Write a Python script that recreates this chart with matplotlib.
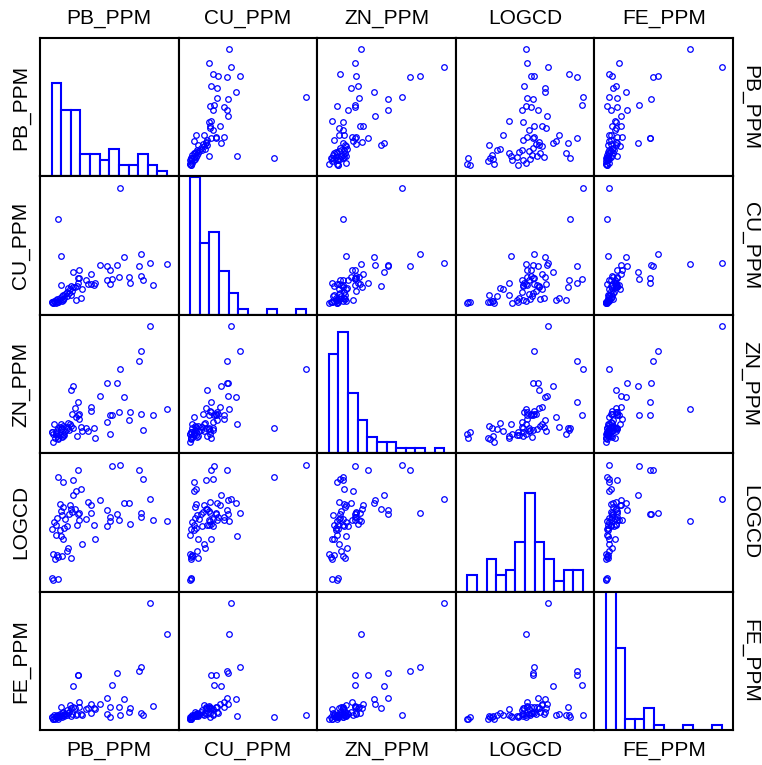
import numpy as np
import matplotlib
matplotlib.use("Agg")
import matplotlib.pyplot as plt

plt.rcParams['font.family'] = ['Liberation Sans', 'DejaVu Sans']

names = ["PB_PPM", "CU_PPM", "ZN_PPM", "LOGCD", "FE_PPM"]

# one value per sample, on a 0-100 scale of each variable's range
pb_ppm = [59, 6, 77, 63, 8, 76, 77, 100, 85, 88, 79, 68, 67, 58, 57, 52, 51, 50.5, 48, 48,
          42, 38, 37, 34, 34, 32, 30, 26, 25.5, 24, 24, 23, 23, 22, 21, 19, 17, 6, 1, 0,
          19, 10, 20, 18, 17, 16, 15, 14, 13, 13, 12, 11, 10, 10, 9, 9, 8, 7, 7, 6,
          5, 5, 4, 4, 3, 2, 1, 0]
cu_ppm = [100, 73, 43, 40, 41, 32, 24, 34, 35, 16, 20, 18, 23, 23, 33, 21, 17, 29, 20, 32,
          33, 18, 16, 17, 25.5, 17, 20, 12, 5, 29, 22, 18, 22, 15, 3, 27, 15, 1, 0, 1,
          14, 3, 14, 11, 7, 12, 9, 13, 6, 10, 8, 5, 4, 7, 2, 6, 16, 3, 5, 1,
          4, 2, 0, 3, 1, 2, 0, 1]
zn_ppm = [63, 12, 79, 39, 15, 70, 24, 28, 100, 23, 10, 25.5, 19, 26, 51, 23, 7, 23, 17, 51,
          40, 3, 12, 27, 30, 9, 12, 9, 13, 20, 24, 34, 23, 5, 21, 48, 45, 3, 7, 8,
          12, 7, 29, 24, 14, 15, 10, 16, 11, 13, 9, 6, 14, 5, 12, 4, 11, 6, 13, 2,
          10, 5, 7, 8, 3, 15, 0, 8]
logcd = [100, 89, 58, 67, 38, 95, 55, 51, 70, 52, 88, 49, 67, 52, 57, 99, 51, 55, 47, 61,
         69, 36, 48, 58, 65, 68, 53, 31, 79, 52, 58, 95, 57, 48, 77, 74, 62, 1, 0, 2,
         87, 85, 62, 59, 19, 65, 57, 28, 25.5, 47, 53, 45, 63, 36, 21, 56, 60, 43, 66, 20,
         54, 22, 39, 48, 18, 50.5, 23, 44]
fe_ppm = [3, 1, 45, 17, 2, 41, 5, 73, 100, 11, 3, 9, 6, 10, 39, 29, 1, 10, 4, 18,
          13, 8, 9, 5, 13, 9, 8, 3, 4, 14, 10, 38, 38, 4, 3, 28, 9, 0, 0, 1,
          10, 3, 9, 4, 2, 12, 6, 5, 3, 7, 4, 2, 6, 3, 1, 5, 10, 2, 4, 1,
          3, 2, 1, 2, 0, 3, 0, 1]

data = [np.array(v, dtype=float) for v in (pb_ppm, cu_ppm, zn_ppm, logcd, fe_ppm)]
scaled = [(v - v.min()) / (v.max() - v.min()) for v in data]
n = len(names)

W, H = 762, 765
fig = plt.figure(figsize=(W / 100, H / 100), dpi=100)

left, right, top, bottom = 40, 733, 38, 730
pw = (right - left) / n
ph = (bottom - top) / n
pad = 11.5
lim_x = (-pad / (pw - 2 * pad), 1 + pad / (pw - 2 * pad))
lim_y = lim_x
bins = np.linspace(0, 1, 13)

for i in range(n):
    for j in range(n):
        x0 = left + j * pw
        y0 = top + (i + 1) * ph
        ax = fig.add_axes([x0 / W, 1 - y0 / H, pw / W, ph / H])
        if i == j:
            ax.hist(scaled[j], bins=bins, facecolor='white', edgecolor='blue', linewidth=1.5)
            ax.set_ylim(0, 25.2)
        else:
            ax.plot(scaled[j], scaled[i], 'o', ms=4, mfc='none', mec='blue', mew=0.9)
            ax.set_ylim(*lim_y)
        ax.set_xlim(*lim_x)
        ax.set_xticks([])
        ax.set_yticks([])
        for s in ax.spines.values():
            s.set_linewidth(1.5)

for k, name in enumerate(names):
    cx = (left + (k + 0.5) * pw) / W
    cy = 1 - (top + (k + 0.5) * ph) / H
    fig.text(cx, 1 - 19 / H, name, ha='center', va='center', fontsize=15)
    fig.text(cx, 1 - 750 / H, name, ha='center', va='center', fontsize=15)
    fig.text(21 / W, cy, name, ha='center', va='center', rotation=90, fontsize=15)
    fig.text(750 / W, cy, name, ha='center', va='center', rotation=270, fontsize=15)

fig.savefig("out.png", dpi=100)
